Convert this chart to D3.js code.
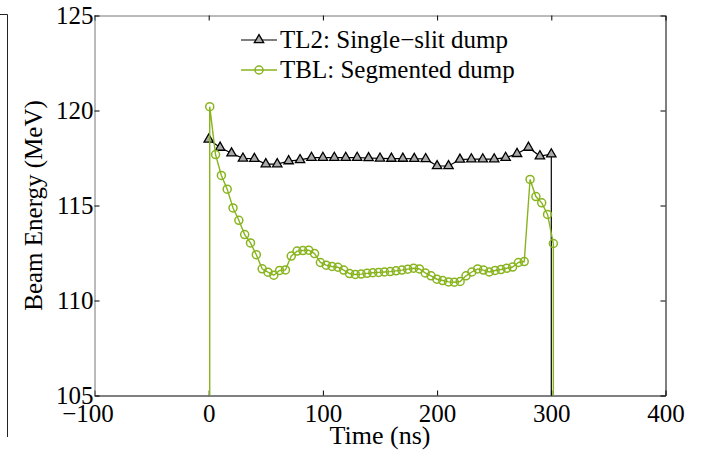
<!DOCTYPE html>
<html>
<head>
    <script src="https://d3js.org/d3.v7.min.js"></script>
    <style>
        body { margin: 0; background: #fff; }
        text { font-family: "Liberation Serif", "Times New Roman", serif; }
    </style>
</head>
<body>

<script>
// TL2 single-slit dump, sampled every 10 ns
const tl2Time = [0, 10, 20, 30, 40, 50, 60, 70, 80, 90, 100, 110, 120, 130, 140, 150,
    160, 170, 180, 190, 200, 210, 220, 230, 240, 250, 260, 270, 280, 290, 300];
const tl2Energy = [118.48, 118.05, 117.75, 117.48, 117.46, 117.18, 117.18, 117.34, 117.4, 117.52,
    117.52, 117.52, 117.52, 117.52, 117.5, 117.48, 117.47, 117.47, 117.46, 117.45,
    117.08, 117.08, 117.42, 117.44, 117.44, 117.44, 117.52, 117.72, 118.05, 117.6, 117.7];

// TBL segmented dump
const tblTime = [0.9, 6.0, 11.1, 16.2, 21.3, 26.4, 31.5, 36.6, 41.7, 46.8, 51.9, 57.0, 62.1, 67.2,
    72.3, 77.4, 82.5, 87.6, 92.7, 97.8, 102.9, 108.0, 113.1, 118.2, 123.3, 128.4, 133.5, 138.6,
    143.7, 148.8, 153.9, 159.0, 164.1, 169.2, 174.3, 179.4, 184.5, 189.6, 194.7, 199.8, 204.9,
    210.0, 215.1, 220.2, 225.3, 230.4, 235.5, 240.6, 245.7, 250.8, 255.9, 261.0, 266.1, 271.2,
    276.3, 281.4, 286.5, 291.6, 296.7, 301.8];
const tblEnergy = [120.2, 117.68, 116.58, 115.86, 114.87, 114.22, 113.47, 113.03, 112.41, 111.67,
    111.49, 111.33, 111.58, 111.61, 112.34, 112.6, 112.63, 112.65, 112.47, 112.0,
    111.86, 111.79, 111.75, 111.6, 111.42, 111.37, 111.39, 111.43, 111.46, 111.48,
    111.5, 111.52, 111.56, 111.6, 111.65, 111.7, 111.66, 111.45, 111.3, 111.12,
    111.05, 110.98, 110.96, 111.0, 111.3, 111.5, 111.66, 111.6, 111.5, 111.58,
    111.63, 111.7, 111.76, 112.0, 112.05, 116.37, 115.47, 115.14, 114.53, 113.0];

const xTicks = [-100, 0, 100, 200, 300, 400];
const yTicks = [105, 110, 115, 120, 125];
const seriesNames = ['TL2: Single\u2212slit dump', 'TBL: Segmented dump'];

const width = 705, height = 450;
const green = '#88b41e';
const fontSize = 25;

const svg = d3.select('body')
    .append('svg')
    .attr('width', width)
    .attr('height', height);

const x = d3.scaleLinear().domain([-100, 400]).range([94.5, 665.5]);
const y = d3.scaleLinear().domain([105, 125]).range([395.5, 15.5]);

// leftover edge of the neighbouring panel
svg.append('path')
    .attr('d', 'M0,14.5H7.5V437')
    .attr('fill', 'none')
    .attr('stroke', '#222')
    .attr('stroke-width', 1);

svg.append('clipPath').attr('id', 'plot')
    .append('rect')
    .attr('x', x(-100)).attr('y', y(125))
    .attr('width', x(400) - x(-100)).attr('height', y(105) - y(125));

// axes with inward ticks on all four sides
const tickLen = 5;
svg.append('g')
    .attr('transform', `translate(0,${y(105)})`)
    .call(d3.axisBottom(x).tickValues(xTicks).tickSizeInner(-tickLen).tickSizeOuter(0)
        .tickFormat(d => d < 0 ? '\u2212' + Math.abs(d) : d))
    .call(g => g.select('.domain').attr('stroke', '#000'))
    .call(g => g.selectAll('text')
        .attr('font-size', fontSize).attr('fill', '#000')
        .attr('dy', null).attr('y', 26)
        .attr('dx', d => d < 0 ? -7 : 0));

svg.append('g')
    .attr('transform', `translate(0,${y(125)})`)
    .call(d3.axisTop(x).tickValues(xTicks).tickSizeInner(-tickLen).tickSizeOuter(0).tickFormat(''))
    .call(g => g.select('.domain').attr('stroke', '#777'));

svg.append('g')
    .attr('transform', `translate(${x(-100)},0)`)
    .call(d3.axisLeft(y).tickValues(yTicks).tickSizeInner(-tickLen).tickSizeOuter(0))
    .call(g => g.select('.domain').attr('stroke', '#777'))
    .call(g => g.selectAll('text')
        .attr('font-size', fontSize).attr('fill', '#000')
        .attr('x', -1).attr('dy', '0.33em'));

svg.append('g')
    .attr('transform', `translate(${x(400)},0)`)
    .call(d3.axisRight(y).tickValues(yTicks).tickSizeInner(-tickLen).tickSizeOuter(0).tickFormat(''))
    .call(g => g.select('.domain').attr('stroke', '#000'));

svg.selectAll('.tick line').attr('stroke', '#000');
svg.selectAll('.domain').attr('stroke-width', 1);

// series
const tl2 = tl2Time.map((t, i) => ({ t, e: tl2Energy[i] }));
const tbl = tblTime.map((t, i) => ({ t, e: tblEnergy[i] }));

// beam switches off at the end of the pulse: energy drops to zero
const tl2Line = [...tl2, { t: tl2Time[tl2Time.length - 1], e: 0 }];
const tblLine = [{ t: tblTime[0], e: 0 }, ...tbl, { t: tblTime[tblTime.length - 1], e: 0 }];

const line = d3.line().x(d => x(d.t)).y(d => y(d.e));

const plot = svg.append('g').attr('clip-path', 'url(#plot)');

plot.append('path')
    .datum(tl2Line)
    .attr('d', line)
    .attr('fill', 'none')
    .attr('stroke', '#000')
    .attr('stroke-width', 1.2);

const tri = d3.symbol().type(d3.symbolTriangle).size(38);

plot.selectAll('path.tri')
    .data(tl2)
    .enter()
    .append('path')
    .attr('class', 'tri')
    .attr('d', tri)
    .attr('transform', d => `translate(${x(d.t)},${y(d.e)})`)
    .attr('fill', '#aaa')
    .attr('stroke', '#000')
    .attr('stroke-width', 1.3);

plot.append('path')
    .datum(tblLine)
    .attr('d', line)
    .attr('fill', 'none')
    .attr('stroke', green)
    .attr('stroke-width', 1.4);

plot.selectAll('circle')
    .data(tbl)
    .enter()
    .append('circle')
    .attr('cx', d => x(d.t))
    .attr('cy', d => y(d.e))
    .attr('r', 4)
    .attr('fill', 'none')
    .attr('stroke', green)
    .attr('stroke-width', 1.5);

// legend
const legend = svg.append('g');
[0, 1].forEach(i => {
    const ly = 40 + i * 30;
    legend.append('line')
        .attr('x1', 241).attr('x2', 277)
        .attr('y1', ly).attr('y2', ly)
        .attr('stroke', i === 0 ? '#000' : green)
        .attr('stroke-width', i === 0 ? 1.2 : 1.4);
    if (i === 0) {
        legend.append('path')
            .attr('d', tri)
            .attr('transform', `translate(259,${ly})`)
            .attr('fill', '#aaa')
            .attr('stroke', '#000')
            .attr('stroke-width', 1.3);
    } else {
        legend.append('circle')
            .attr('cx', 259).attr('cy', ly).attr('r', 4)
            .attr('fill', 'none')
            .attr('stroke', green)
            .attr('stroke-width', 1.5);
    }
    legend.append('text')
        .attr('x', 280).attr('y', ly + 8)
        .attr('font-size', fontSize)
        .text(seriesNames[i]);
});

// axis labels
svg.append('text')
    .attr('x', x(150))
    .attr('y', 444)
    .attr('text-anchor', 'middle')
    .attr('font-size', fontSize + 1)
    .text('Time (ns)');

svg.append('text')
    .attr('transform', `translate(42,${(y(105) + y(125)) / 2}) rotate(-90)`)
    .attr('text-anchor', 'middle')
    .attr('font-size', fontSize)
    .text('Beam Energy (MeV)');
</script>

</body>
</html>
